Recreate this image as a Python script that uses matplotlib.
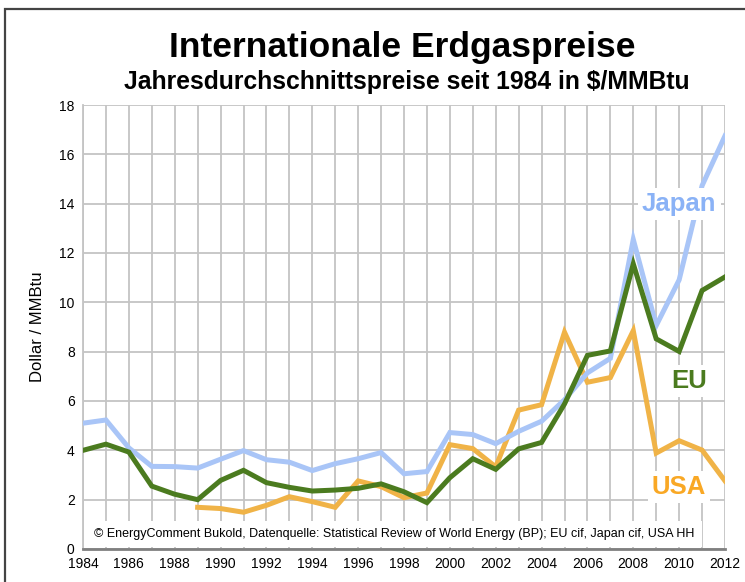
import numpy as np
import matplotlib.pyplot as plt
from matplotlib.patches import Rectangle

plt.rcParams['font.family'] = ['Liberation Sans', 'DejaVu Sans']

years = list(range(1984, 2013))

japan = [5.10, 5.23, 4.10, 3.35, 3.34, 3.28, 3.64, 3.99, 3.62, 3.52,
         3.18, 3.46, 3.66, 3.91, 3.05, 3.14, 4.72, 4.64, 4.27, 4.77,
         5.18, 6.05, 7.14, 7.73, 12.55, 9.06, 10.91, 14.73, 16.75]

eu = [4.00, 4.25, 3.93, 2.55, 2.22, 2.00, 2.78, 3.19, 2.69, 2.50,
      2.35, 2.39, 2.46, 2.64, 2.32, 1.88, 2.89, 3.66, 3.23, 4.06,
      4.32, 5.88, 7.85, 8.03, 11.56, 8.52, 8.01, 10.48, 11.03]

usa_years = list(range(1989, 2013))
usa = [1.69, 1.64, 1.49, 1.77, 2.12, 1.92, 1.69, 2.76, 2.53, 2.08,
       2.27, 4.23, 4.07, 3.33, 5.63, 5.85, 8.79, 6.76, 6.95, 8.85,
       3.89, 4.39, 4.01, 2.76]

fig = plt.figure(figsize=(7.45, 5.82), dpi=100)
# outer frame of the original graphic
fig.patches.append(Rectangle((5 / 745, -0.1), 1.2, 1.1 - 9 / 582,
                             transform=fig.transFigure, fill=False,
                             edgecolor='#444444', linewidth=1.6))

ax = fig.add_axes([83 / 745, 33 / 582, (725 - 83) / 745, (549 - 105) / 582])
ax.set_xlim(1984, 2012)
ax.set_ylim(0, 18)

ax.set_xticks(range(1984, 2013, 2))
ax.set_xticks(years, minor=True)
ax.set_yticks(range(0, 19, 2))
ax.tick_params(axis='both', which='both', length=0, labelsize=10, pad=6)
ax.grid(True, which='both', color='#c4c4c4', linewidth=1.3)
ax.set_axisbelow(True)
for s in ['top', 'right']:
    ax.spines[s].set_visible(False)
ax.spines['left'].set_color('#c4c4c4')
ax.spines['left'].set_linewidth(1.3)
ax.spines['bottom'].set_color('#808080')
ax.spines['bottom'].set_linewidth(2)

ax.plot(years, japan, color='#a9c5f7', linewidth=3.6, solid_joinstyle='miter', zorder=3)
ax.plot(years, eu, color='#4b7b1f', linewidth=3.6, solid_joinstyle='miter', zorder=4)
ax.plot(usa_years, usa, color='#f0b347', linewidth=3.6, solid_joinstyle='miter', zorder=2)

box = dict(facecolor='white', edgecolor='none', pad=3)
ax.text(2010.0, 14.0, 'Japan', color='#8ab2f6', fontsize=18.5, fontweight='bold',
        ha='center', va='center', bbox=box, zorder=5)
ax.text(2010.45, 6.8, 'EU', color='#4b7b1f', fontsize=18.5, fontweight='bold',
        ha='center', va='center', bbox=box, zorder=5)
ax.text(2010.0, 2.5, 'USA', color='#f9a825', fontsize=18.5, fontweight='bold',
        ha='center', va='center', bbox=box, zorder=5)

ax.text(1984.5, 0.62, '\u00a9 EnergyComment Bukold, Datenquelle: Statistical Review of World Energy (BP); '
        'EU cif, Japan cif, USA HH', fontsize=9, ha='left', va='center',
        bbox=dict(facecolor='white', edgecolor='none', pad=5), zorder=5)

ax.set_ylabel('Dollar / MMBtu', fontsize=12, labelpad=10)

fig.text(0.54, 0.918, 'Internationale Erdgaspreise', fontsize=25.5, fontweight='bold',
         ha='center', va='center')
fig.text(0.546, 0.859, 'Jahresdurchschnittspreise seit 1984 in $/MMBtu', fontsize=17.8,
         fontweight='bold', ha='center', va='center')

fig.savefig('out.png', dpi=100)
